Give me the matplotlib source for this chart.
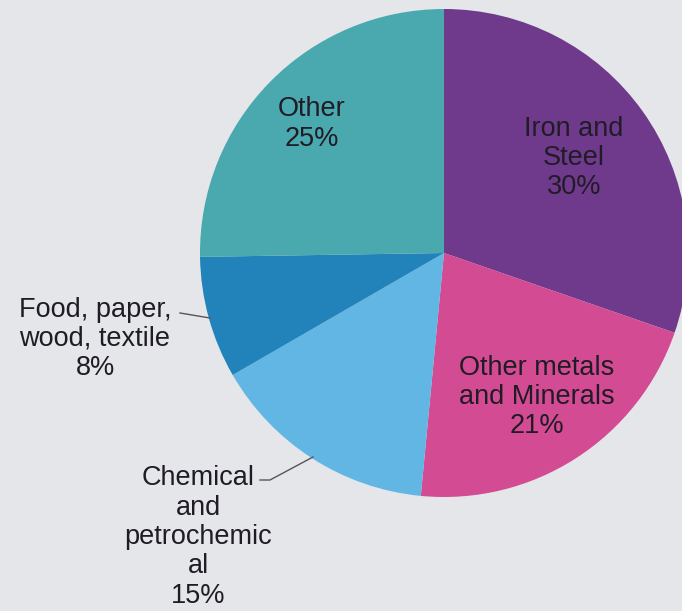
import matplotlib.pyplot as plt

labels = ["Iron and\nSteel", "Other metals\nand Minerals", "Chemical\nand\npetrochemic\nal",
          "Food, paper,\nwood, textile", "Other"]
shares = [30, 21, 15, 8, 25]
colors = ["#6f3a8c", "#d34b92", "#62b6e3", "#2283ba", "#49a9ae"]

# pie geometry in pixels (figure 682x611 at dpi 100)
W, H = 682, 611
cx, cy, r = 444, 253, 244


def to_data(px, py):
    return (px - cx) / r, (cy - py) / r


plt.rcParams["font.family"] = ["Liberation Sans", "DejaVu Sans"]
bg = "#e4e6ea"
fig = plt.figure(figsize=(W / 100, H / 100), dpi=100, facecolor=bg)
ax = fig.add_axes([0, 0, 1, 1])
ax.set_facecolor(bg)

ax.pie(shares, colors=colors, startangle=90, counterclock=False, radius=1,
       wedgeprops=dict(linewidth=0))
ax.set_aspect("auto")
ax.set_xlim(-cx / r, (W - cx) / r)
ax.set_ylim(-(H - cy) / r, cy / r)
ax.axis("off")

txt = dict(fontsize=19.5, ha="center", va="center", color="#201c26", linespacing=1.17)
pct = [f"{v}%" for v in shares]

# label positions (pixel centres)
pos = [(574, 158), (537, 397), (198, 537), (95, 339), (312, 124)]
for lab, p, (px, py) in zip(labels, pct, pos):
    x, y = to_data(px, py)
    ax.text(x, y, lab + "\n" + p, **txt)

# leader lines
lc = dict(color="#555555", lw=1)
ax.plot(*zip(to_data(180, 313), to_data(210, 318)), **lc)
ax.plot(*zip(to_data(260, 480), to_data(270, 480), to_data(313, 457)), **lc)

fig.savefig("out.png", dpi=100, facecolor=bg)
